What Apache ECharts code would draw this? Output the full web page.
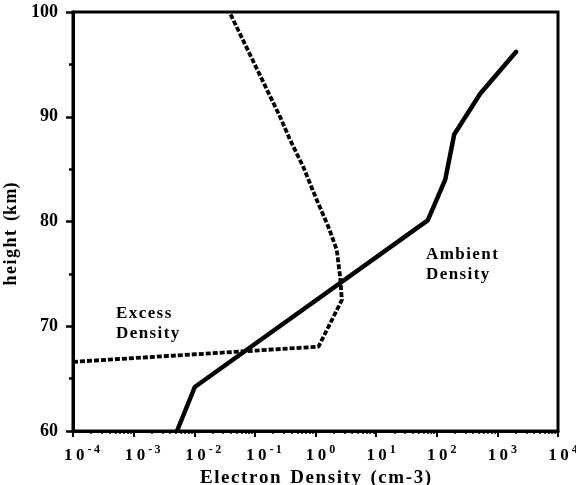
<!DOCTYPE html>
<html>
<head>
<meta charset="utf-8">
<script src="https://cdn.jsdelivr.net/npm/echarts@6/dist/echarts.min.js"></script>
<style>html,body{margin:0;padding:0;background:#fff;}#c{width:576px;height:485px;}</style>
</head>
<body>
<div id="c"></div>
<script>
// Data
var ambientX = [0.0052, 0.0102, 71, 138, 194, 520, 2040];
var ambientY = [60, 64.2, 80.1, 84.0, 88.3, 92.2, 96.2];
var excessX = [0.0001, 1.12, 2.72, 2.55, 2.24, 1.63, 1.05, 0.63, 0.38, 0.26, 0.038];
var excessY = [66.6, 68.05, 72.5, 74.7, 77.3, 79.5, 82.05, 85.2, 87.8, 90.0, 100];
var xExponents = [-4, -3, -2, -1, 0, 1, 2, 3, 4];
var yTicks = [60, 70, 80, 90, 100];

function pairs(xs, ys) { return xs.map(function (x, i) { return [x, ys[i]]; }); }
var minorVals = [];
for (var e = -4; e < 4; e++) { for (var m = 2; m <= 9; m++) { minorVals.push(m * Math.pow(10, e)); } }
function spaced(s, sp) { return s.split('').join(sp); }

var FONT = '"Liberation Serif", "DejaVu Serif", serif';
var chart = echarts.init(document.getElementById('c'));
chart.setOption({
  animation: false,
  backgroundColor: '#fff',
  grid: { left: 73, right: 18, top: 12, bottom: 54, outerBoundsMode: 'none', containLabel: false, show: true, borderColor: '#000', borderWidth: 3 },
  xAxis: [{
    type: 'log', logBase: 10, min: 1e-4, max: 1e4, splitNumber: 8,
    name: spaced('Electron', '\u200A') + '  ' + spaced('Density', '\u200A') + '  ' + spaced('(cm-3)', '\u200A'),
    nameLocation: 'middle', nameGap: 32,
    nameTextStyle: { fontFamily: FONT, fontWeight: 'bold', fontSize: 19, color: '#000' },
    axisLine: { show: true, lineStyle: { color: '#000', width: 3 } },
    axisTick: { show: true, inside: false, length: 6, lineStyle: { color: '#000', width: 2 } },
    splitLine: { show: false },
    axisLabel: {
      margin: 13, color: '#000',
      formatter: function (v) {
        var ex = Math.round(Math.log10(v));
        var s = ex < 0 ? '-\u2009' + (-ex) : String(ex);
        return (ex < 0 ? '{pn|}' : '{pp|}') + '{b|1\u20090}{s|' + s + '}';
      },
      rich: {
        pn: { width: 18 },
        pp: { width: 10 },
        b: { fontFamily: FONT, fontWeight: 'bold', fontSize: 17, color: '#000', lineHeight: 20, verticalAlign: 'bottom' },
        s: { fontFamily: FONT, fontWeight: 'bold', fontSize: 12, color: '#000', lineHeight: 20, verticalAlign: 'top', padding: [0, 0, 0, 3] }
      }
    }
  }, {
    type: 'log', logBase: 10, min: 1e-4, max: 1e4, position: 'bottom',
    axisLine: { show: false },
    axisLabel: { show: false },
    splitLine: { show: false },
    axisTick: { show: true, length: 3, customValues: minorVals, lineStyle: { color: '#000', width: 1.5 } }
  }],
  yAxis: {
    type: 'value', min: yTicks[0], max: yTicks[yTicks.length - 1], interval: 10,
    name: spaced('height', '\u200A') + '  (' + spaced('km', '\u200A') + ')', nameLocation: 'middle', nameGap: 49, nameRotate: 90,
    nameTextStyle: { fontFamily: FONT, fontWeight: 'bold', fontSize: 18, color: '#000', padding: [0, 25, 0, 0] },
    axisLine: { show: true, lineStyle: { color: '#000', width: 3 } },
    axisTick: { show: true, length: 7, lineStyle: { color: '#000', width: 2.5 } },
    minorTick: { show: true, splitNumber: 2, length: 4, lineStyle: { color: '#000', width: 2.5 } },
    splitLine: { show: false },
    axisLabel: { margin: 15, color: '#000', fontFamily: FONT, fontWeight: 'bold', fontSize: 18 }
  },
  series: [{
    name: 'Ambient Density', type: 'line', xAxisIndex: 0, showSymbol: false, symbol: 'none',
    data: pairs(ambientX, ambientY),
    lineStyle: { color: '#000', width: 4.5, cap: 'round', join: 'round' }
  }, {
    name: 'Excess Density', type: 'line', xAxisIndex: 0, showSymbol: false, symbol: 'none',
    data: pairs(excessX, excessY),
    lineStyle: { color: '#000', width: 3.8, type: [5, 2] }
  }],
  graphic: [{
    type: 'text', left: 116, top: 304,
    style: { text: spaced('Excess', '\u200A') + '\n' + spaced('Density', '\u200A'), fontFamily: FONT, fontWeight: 'bold', fontSize: 17, lineHeight: 20, fill: '#000' }
  }, {
    type: 'text', left: 426, top: 245,
    style: { text: spaced('Ambient', '\u200A') + '\n' + spaced('Density', '\u200A'), fontFamily: FONT, fontWeight: 'bold', fontSize: 17, lineHeight: 20, fill: '#000' }
  }]
});
</script>
</body>
</html>
